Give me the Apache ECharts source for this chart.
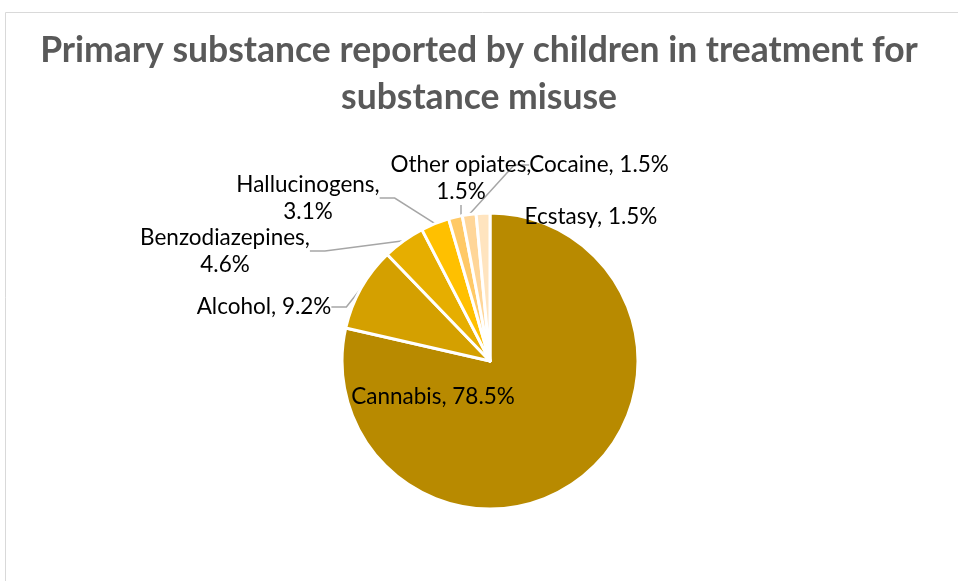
<!DOCTYPE html>
<html>
<head>
    <meta charset="utf-8">
    <title>Primary substance</title>
    <script src="https://cdn.jsdelivr.net/npm/echarts@6/dist/echarts.min.js"></script>
</head>
<body style="margin:0">
    <div id="main" style="width: 958px;height:581px;"></div>
    <script type="text/javascript">
        var substances = ['Cannabis', 'Alcohol', 'Benzodiazepines', 'Hallucinogens', 'Other opiates', 'Cocaine', 'Ecstasy'];
        var shares = [78.5, 9.2, 4.6, 3.1, 1.5, 1.5, 1.5];
        var colors = ['#B88A00', '#D4A000', '#E6AE00', '#FFC000', '#FFC966', '#FFD699', '#FFE4BF'];

        var myChart = echarts.init(document.getElementById('main'));

        // where Excel put each data label (centre of the text block)
        var labelSpots = [
            [433, 397], [264, 307], [225, 251], [308, 198], [461, 178], [599, 165], [591, 217]
        ];

        var pieData = substances.map(function (name, i) {
            var item = { name: name, value: shares[i], itemStyle: { color: colors[i] } };
            if (i === 0) {
                item.label = { position: 'inside' };
                item.labelLine = { show: false };
            }
            if (i === 6) {
                item.labelLine = { show: false };
            }
            return item;
        });

        var option = {
            animation: false,
            backgroundColor: '#fff',
            title: {
                text: 'Primary substance reported by children in treatment for\nsubstance misuse',
                left: 'center',
                top: 22,
                textStyle: {
                    fontFamily: 'Lato',
                    fontSize: 35.5,
                    fontWeight: 'bold',
                    color: '#595959',
                    lineHeight: 47
                }
            },
            graphic: [{
                type: 'rect',
                shape: { x: 5.5, y: 12.5, width: 960, height: 600 },
                style: { fill: 'none', stroke: '#d9d9d9', lineWidth: 1 },
                silent: true
            }],
            series: [{
                type: 'pie',
                center: [490, 361],
                radius: 148,
                startAngle: 90,
                clockwise: true,
                avoidLabelOverlap: false,
                itemStyle: { borderColor: '#fff', borderWidth: 3 },
                label: {
                    show: true,
                    fontFamily: 'Lato',
                    fontSize: 22.5,
                    color: '#000',
                    lineHeight: 27,
                    align: 'center',
                    formatter: function (p) {
                        if (p.dataIndex === 2 || p.dataIndex === 3 || p.dataIndex === 4) {
                            return p.name + ',\n' + p.value.toFixed(1) + '%';
                        }
                        return p.name + ', ' + p.value.toFixed(1) + '%';
                    }
                },
                labelLine: {
                    show: true,
                    length: 15,
                    length2: 15,
                    lineStyle: { color: '#a6a6a6', width: 1.5 }
                },
                labelLayout: function (params) {
                    var s = labelSpots[params.dataIndex];
                    return {
                        x: s[0],
                        y: s[1],
                        align: 'center',
                        verticalAlign: 'middle'
                    };
                },
                data: pieData
            }]
        };

        myChart.setOption(option);
    </script>
</body>
</html>
